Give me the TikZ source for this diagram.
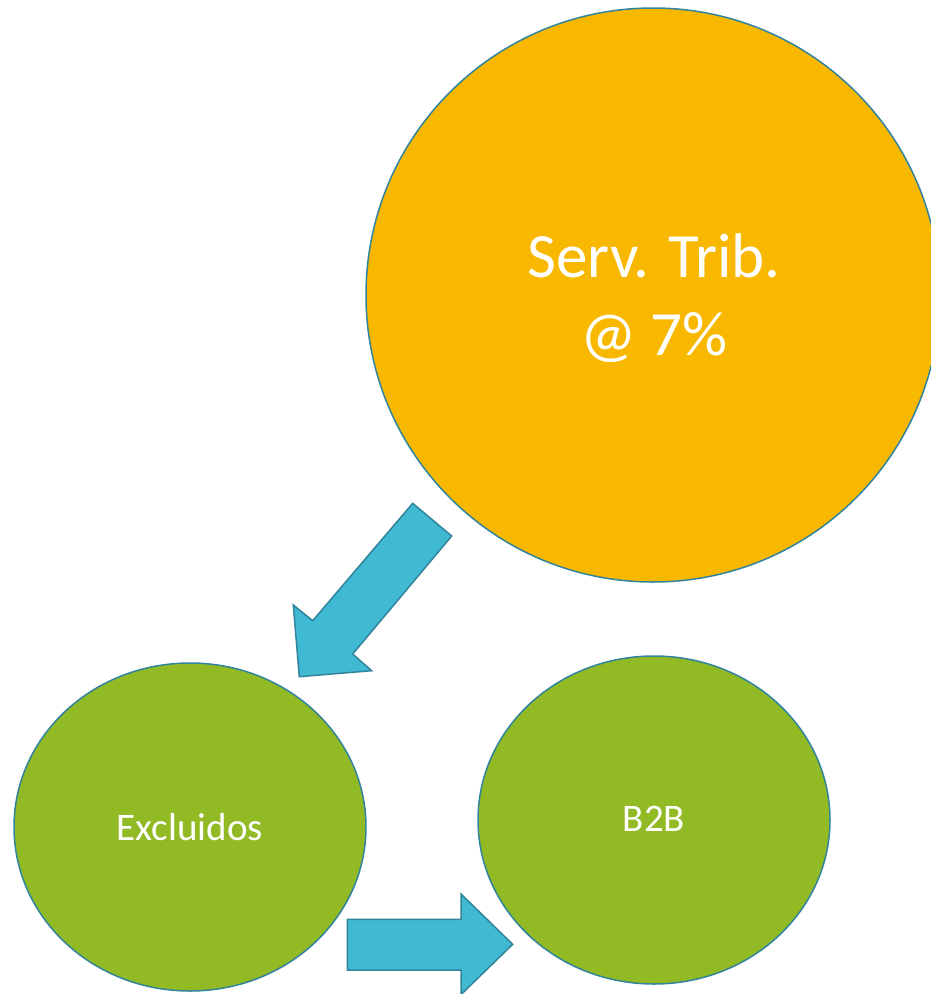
\documentclass[tikz,border=0pt]{standalone}
\usepackage{fontspec}
\setmainfont{Carlito}
\begin{document}
\begin{tikzpicture}[x=1pt,y=-1pt]
\definecolor{orangefill}{HTML}{F9B800}
\definecolor{greenfill}{HTML}{92BA25}
\definecolor{arrowfill}{HTML}{40B9D3}
\definecolor{edgeline}{HTML}{31849B}
\tikzset{
  bigtext/.style={text=white, font=\fontsize{63}{78}\selectfont, align=center},
  smalltext/.style={text=white, font=\fontsize{39}{44}\selectfont},
  blockarrow/.style={draw=edgeline, fill=arrowfill, line width=1.5pt, line join=miter}
}
\useasboundingbox (0,0) rectangle (931,994);
\begin{scope}
\clip (0,0) rectangle (931,994);
\fill[orangefill, draw=edgeline, line width=1.5pt] (653,295) ellipse [x radius=287, y radius=287];
\node[coordinate] (big) at (653,295) {};
\fill[greenfill, draw=edgeline, line width=1.5pt] (190,827) ellipse [x radius=176, y radius=164];
\node[coordinate] (left) at (190,827) {};
\fill[greenfill, draw=edgeline, line width=1.5pt] (654,820) ellipse [x radius=176, y radius=164];
\node[coordinate] (right) at (654,820) {};
\node[bigtext] (bigtxt) at (654,298) {Serv. Trib.\\@ 7\%};
\node[smalltext] (ltxt) at (190,827) {Excluidos};
\node[smalltext] (rtxt) at (654,819) {B2B};
\draw[blockarrow] (412.7,503.3) -- (451.7,536) -- (352.7,654) -- (371.7,670.7) -- (299.3,676.7) -- (293.3,605) -- (312.7,620.7) -- cycle;
\draw[blockarrow] (347.3,919.3) -- (461,919.3) -- (461,894) -- (512.7,944.3) -- (461,994.6) -- (461,970) -- (347.3,970) -- cycle;
\end{scope}
\end{tikzpicture}
\end{document}
